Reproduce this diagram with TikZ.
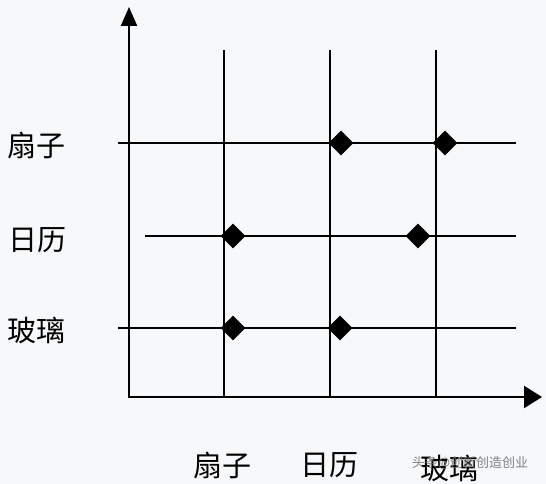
\documentclass[tikz,border=0pt]{standalone}
\usepackage{fontspec}
\setmainfont{Noto Sans CJK SC}
\usetikzlibrary{arrows.meta,shapes.geometric}
\definecolor{bg}{RGB}{247,248,250}
\begin{document}
\begin{tikzpicture}[x=1pt,y=-1pt,
  gridline/.style={line width=1.9pt, black},
  axisline/.style={line width=2.3pt, black},
  dia/.style={diamond, fill=black, minimum width=25pt, minimum height=25pt, inner sep=0pt},
  lab/.style={font=\fontsize{29}{29}\selectfont, inner sep=0pt},
  wm/.style={font=\fontsize{13}{13}\selectfont, text=black!55, inner sep=0pt, opacity=0.9},
]
\fill[bg] (0,0) rectangle (546,484);
\useasboundingbox (0,0) rectangle (546,484);
% axes
\coordinate (O) at (129,397);
\coordinate (Ytip) at (129,7);
\coordinate (Xtip) at (542,397);
\draw[axisline,{Triangle[length=19pt,width=16pt]}-{Triangle[length=18pt,width=22pt]}] (Ytip) -- (O) -- (Xtip);
% vertical lines
\foreach \n/\x in {1/224,2/330,3/436}{
  \coordinate (v\n t) at (\x,50);
  \coordinate (v\n b) at (\x,397);
  \draw[gridline] (v\n t) -- (v\n b);
}
% horizontal lines
\coordinate (h1l) at (118,143); \coordinate (h1r) at (516,143);
\coordinate (h2l) at (145,236); \coordinate (h2r) at (516,236);
\coordinate (h3l) at (118,328); \coordinate (h3r) at (516,328);
\draw[gridline] (h1l) -- (h1r);
\draw[gridline] (h2l) -- (h2r);
\draw[gridline] (h3l) -- (h3r);
% diamonds
\node[dia] (d11) at (341,143) {};
\node[dia] (d12) at (445,143) {};
\node[dia] (d21) at (233,236) {};
\node[dia] (d22) at (418,236) {};
\node[dia] (d31) at (233,328) {};
\node[dia] (d32) at (340,328) {};
% left labels
\node[lab] (l1) at (37,145) {扇子};
\node[lab] (l2) at (38,240) {日历};
\node[lab] (l3) at (37,330) {玻璃};
% bottom labels
\node[lab] (b1) at (222,465) {扇子};
\node[lab] (b2) at (329,465) {日历};
\node[lab] (b3) at (449,468) {玻璃};
% watermark
\node[wm] (wmk) at (470,463) {头条@创新创造创业};
\end{tikzpicture}
\end{document}
